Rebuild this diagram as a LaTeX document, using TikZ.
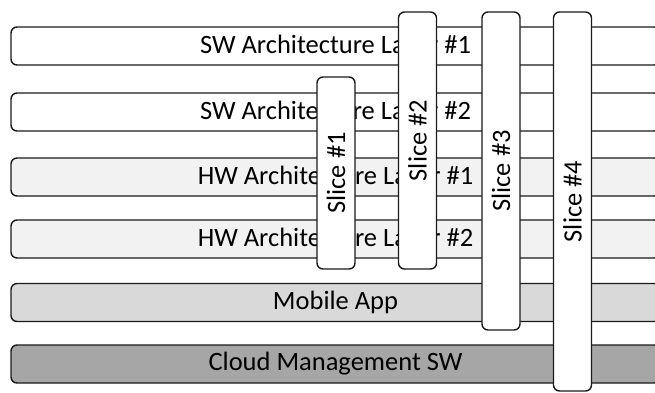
\documentclass[tikz,border=0pt]{standalone}
\usepackage{fontspec}
\setmainfont{Carlito}
\definecolor{edge}{HTML}{1A1A1A}
\definecolor{hwfill}{HTML}{F2F2F2}
\definecolor{appfill}{HTML}{D9D9D9}
\definecolor{cloudfill}{HTML}{A6A6A6}
\begin{document}
\begin{tikzpicture}[x=1pt,y=-1pt,
  base/.style={draw=edge, line width=1.4pt, rounded corners=6pt, inner sep=0pt, outer sep=0pt,
    text=black, font=\fontsize{26.5}{30}\selectfont},
  layer/.style={base, rectangle, minimum width=649pt, minimum height=38pt},
  slicebox/.style={base, rectangle, fill=white, rotate=90, minimum height=38pt}]
\useasboundingbox (0,0) rectangle (655,392);
\clip (0,0) rectangle (655,392);
% horizontal layers
\node[layer, fill=white]     (sw1)   at (335.5,46)    {SW Architecture Layer \#1};
\node[layer, fill=white]     (sw2)   at (335.5,112)   {SW Architecture Layer \#2};
\node[layer, fill=hwfill]    (hw1)   at (335.5,177)   {HW Architecture Layer \#1};
\node[layer, fill=hwfill]    (hw2)   at (335.5,239)   {HW Architecture Layer \#2};
\node[layer, fill=appfill]   (app)   at (335.5,302.5) {Mobile App};
\node[layer, fill=cloudfill] (cloud) at (335.5,364)   {Cloud Management SW};
% vertical slices across the layers
\node[slicebox, minimum width=192pt] (s1) at (336,173)   {Slice \#1};
\node[slicebox, minimum width=257pt] (s2) at (417.5,140.5) {Slice \#2};
\node[slicebox, minimum width=318pt] (s3) at (501,171)   {Slice \#3};
\node[slicebox, minimum width=379pt] (s4) at (572.5,201.5) {Slice \#4};
\end{tikzpicture}
\end{document}
